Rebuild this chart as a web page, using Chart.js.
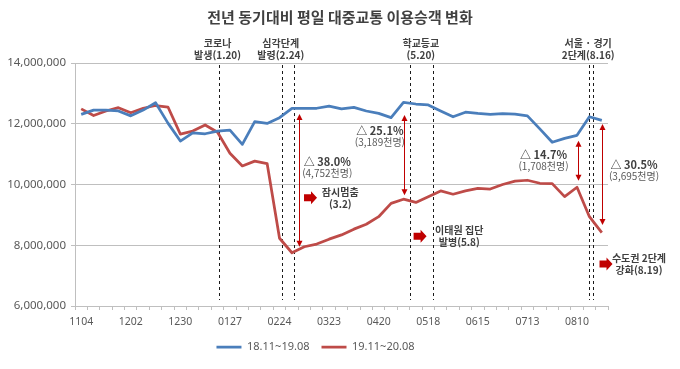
<!DOCTYPE html>
<html lang="ko">
<head>
<meta charset="utf-8">
<title>전년 동기대비 평일 대중교통 이용승객 변화</title>
<script src="https://cdn.jsdelivr.net/npm/chart.js@4.4.1/dist/chart.umd.min.js"></script>
<style>
  html, body { margin: 0; padding: 0; background: #fff; }
  #wrap { width: 680px; height: 369px; }
</style>
</head>
<body>
<div id="wrap"><canvas id="chart" width="680" height="369"></canvas></div>
<script>
'use strict';

// ---------- data ----------
const weeks = [
  '1104', '1111', '1118', '1125', '1202', '1209', '1216', '1223', '1230', '0106',
  '0113', '0120', '0127', '0203', '0210', '0217', '0224', '0302', '0309', '0316',
  '0323', '0330', '0406', '0413', '0420', '0427', '0504', '0511', '0518', '0525',
  '0601', '0608', '0615', '0622', '0629', '0706', '0713', '0720', '0727', '0803',
  '0810', '0817', '0824',
];

// 18.11~19.08 (weekday riders)
const prevYear = [
  12310000, 12450000, 12450000, 12420000, 12260000, 12450000, 12690000, 12020000, 11430000, 11700000,
  11670000, 11760000, 11790000, 11320000, 12070000, 12010000, 12200000, 12505000, 12510000, 12510000,
  12580000, 12490000, 12540000, 12420000, 12340000, 12200000, 12705000, 12650000, 12620000, 12420000,
  12230000, 12380000, 12340000, 12310000, 12330000, 12320000, 12260000, 11830000, 11390000, 11520000,
  11620000, 12230000, 12110000,
];

// 19.11~20.08
const thisYear = [
  12490000, 12270000, 12420000, 12530000, 12360000, 12510000, 12600000, 12550000, 11660000, 11760000,
  11960000, 11720000, 11030000, 10610000, 10770000, 10690000, 8230000, 7753000, 7950000, 8040000,
  8200000, 8340000, 8530000, 8690000, 8940000, 9380000, 9516000, 9410000, 9600000, 9790000,
  9680000, 9790000, 9870000, 9850000, 10000000, 10110000, 10140000, 10040000, 10030000, 9600000,
  9910000, 8940000, 8415000,
];

const yTicks = [6000000, 8000000, 10000000, 12000000, 14000000];
const seriesNames = ['18.11~19.08', '19.11~20.08'];

// events: dashed lines (category position) + label above the plot
const eventAt = [[11.1], [16.2, 17.2], [26.55, 28.4], [40.95, 41.3]];
const eventLabelAt = [11.0, 16.1, 27.4, 40.9];
const eventText = [
  ['코로나', '발생(1.20)'],
  ['심각단계', '발령(2.24)'],
  ['학교등교', '(5.20)'],
  ['서울 · 경기', '2단계(8.16)'],
];

// gap arrows between the two series
const gapAt = [17.6, 26.05, 40.05, 42.05];
const gapFrom = [12320000, 12290000, 11440000, 11990000];
const gapTo = [7950000, 9650000, 10125000, 8670000];
const gapPct = ['△ 38.0%', '△ 25.1%', '△ 14.7%', '△ 30.5%'];
const gapCount = ['(4,752천명)', '(3,189천명)', '(1,708천명)', '(3,695천명)'];
const gapTextX = [19.85, 24.1, 37.3, 44.6];
const gapTextY = [10740000, 11760000, 10970000, 10640000];

// red block-arrow callouts
const calloutX = [18.46, 27.3, 42.3];
const calloutY = [9560000, 8300000, 7380000];
const calloutTextX = [20.9, 30.5, 45.0];
const calloutText = [
  ['잠시멈춤', '(3.2)'],
  ['이태원 집단', '발병(5.8)'],
  ['수도권 2단계', '강화(8.19)'],
];

// ---------- helpers ----------
const $ = (sel) => document.querySelector(sel);
const FONT = "'Noto Sans', 'Noto Sans CJK KR', sans-serif";
const KFONT = "'Noto Sans CJK KR', 'Noto Sans', sans-serif";
const BLUE = '#4A7EBB';
const RED = '#BE4B48';
const ARROW_RED = '#C00000';
const GRID = '#BFBFBF';
const TEXT = '#404040';
const TICK = '#595959';

function vArrow(ctx, px, y1, y2) {
  const h = 6, w = 3;
  ctx.beginPath();
  ctx.moveTo(px, y1 + h - 1);
  ctx.lineTo(px, y2 - h + 1);
  ctx.stroke();
  ctx.beginPath();
  ctx.moveTo(px, y1); ctx.lineTo(px - w, y1 + h); ctx.lineTo(px + w, y1 + h);
  ctx.closePath(); ctx.fill();
  ctx.beginPath();
  ctx.moveTo(px, y2); ctx.lineTo(px - w, y2 - h); ctx.lineTo(px + w, y2 - h);
  ctx.closePath(); ctx.fill();
}

function blockArrow(ctx, cx, cy) {
  ctx.beginPath();
  ctx.moveTo(cx - 6, cy - 3.5);
  ctx.lineTo(cx + 1, cy - 3.5);
  ctx.lineTo(cx + 1, cy - 6.5);
  ctx.lineTo(cx + 7, cy);
  ctx.lineTo(cx + 1, cy + 6.5);
  ctx.lineTo(cx + 1, cy + 3.5);
  ctx.lineTo(cx - 6, cy + 3.5);
  ctx.closePath();
  ctx.fill();
}

// ---------- annotation plugin ----------
const annotate = {
  id: 'annotate',
  afterLayout(chart) {
    // title spans the whole figure; legend is centred a bit left of it
    if (chart.titleBlock) { chart.titleBlock.left = 0; chart.titleBlock.right = chart.width; }
    if (chart.legend) chart.legend.left += 23;
  },
  beforeDatasetsDraw(chart) {
    const { ctx, chartArea, scales: { x, y } } = chart;
    ctx.save();
    ctx.strokeStyle = '#1a1a1a';
    ctx.lineWidth = 1;
    ctx.setLineDash([3, 3]);
    const bottom = y.getPixelForValue(6200000);
    eventAt.forEach((list) => list.forEach((at) => {
      const px = Math.round(x.getPixelForValue(at)) + 0.5;
      ctx.beginPath();
      ctx.moveTo(px, chartArea.top + 2);
      ctx.lineTo(px, bottom);
      ctx.stroke();
    }));
    ctx.restore();
  },
  afterDatasetsDraw(chart) {
    const { ctx, chartArea, scales: { x, y } } = chart;
    ctx.save();
    ctx.textAlign = 'center';
    ctx.textBaseline = 'middle';

    // event labels above the plot
    ctx.fillStyle = TEXT;
    ctx.font = `bold 10px ${KFONT}`;
    eventText.forEach(([a, b], i) => {
      const px = x.getPixelForValue(eventLabelAt[i]);
      ctx.fillText(a, px, chartArea.top - 20);
      ctx.fillText(b, px, chartArea.top - 8);
    });

    // gap arrows
    ctx.strokeStyle = ARROW_RED;
    ctx.fillStyle = ARROW_RED;
    ctx.lineWidth = 1;
    gapAt.forEach((at, i) => {
      const px = Math.round(x.getPixelForValue(at)) + 0.5;
      vArrow(ctx, px, y.getPixelForValue(gapFrom[i]), y.getPixelForValue(gapTo[i]));
    });
    gapPct.forEach((t, i) => {
      const px = x.getPixelForValue(gapTextX[i]);
      const py = y.getPixelForValue(gapTextY[i]);
      ctx.fillStyle = TEXT;
      ctx.font = `bold 11px ${KFONT}`;
      ctx.fillText(t, px, py);
      ctx.fillStyle = TICK;
      ctx.font = `10px ${KFONT}`;
      ctx.fillText(gapCount[i], px, py + 11.5);
    });

    // callouts
    calloutX.forEach((cx, i) => {
      const px = x.getPixelForValue(cx);
      const py = y.getPixelForValue(calloutY[i]);
      ctx.fillStyle = ARROW_RED;
      blockArrow(ctx, px, py);
      const tx = x.getPixelForValue(calloutTextX[i]);
      ctx.fillStyle = TEXT;
      ctx.font = `bold 10px ${KFONT}`;
      ctx.fillText(calloutText[i][0], tx, py - 5.5);
      ctx.fillText(calloutText[i][1], tx, py + 6);
    });
    ctx.restore();
  },
};

// ---------- chart ----------
Chart.defaults.font.family = FONT;

const line = (label, data, color) => ({
  label, data, borderColor: color, backgroundColor: color,
  borderWidth: 2.75, pointRadius: 0, tension: 0, borderJoinStyle: 'round',
});

new Chart($('#chart').getContext('2d'), {
  type: 'line',
  data: {
    labels: weeks,
    datasets: [
      line(seriesNames[0], prevYear, BLUE),
      line(seriesNames[1], thisYear, RED),
    ],
  },
  options: {
    responsive: false,
    animation: false,
    events: [],
    layout: { padding: { left: 0, right: 72, top: 0, bottom: 6.5 } },
    plugins: {
      title: {
        display: true,
        text: '전년 동기대비 평일 대중교통 이용승객 변화',
        color: TEXT,
        font: { family: KFONT, size: 15, weight: 'bold', lineHeight: 1.2 },
        padding: { top: 8, bottom: 37 },
      },
      legend: {
        position: 'bottom',
        labels: {
          color: TICK, font: { size: 11 }, padding: 12,
          usePointStyle: true, pointStyle: 'line', pointStyleWidth: 25,
        },
      },
      tooltip: { enabled: false },
    },
    scales: {
      x: {
        offset: true,
        grid: { drawOnChartArea: false, drawTicks: true, tickLength: 4, offset: true, color: GRID },
        border: { display: true, color: GRID },
        ticks: {
          autoSkip: false, maxRotation: 0, minRotation: 0, padding: 6,
          color: TICK, font: { size: 10.5 },
          callback: (v, i) => (i % 4 === 0 ? weeks[i] : ''),
        },
        afterFit: (s) => { s.height = 23.5; },
      },
      y: {
        min: yTicks[0],
        max: yTicks[yTicks.length - 1],
        afterBuildTicks: (s) => { s.ticks = yTicks.map((value) => ({ value })); },
        grid: { color: GRID, tickLength: 4 },
        border: { display: true, color: GRID },
        ticks: {
          color: TICK, font: { size: 11.5 }, padding: 5,
          callback: (v) => Number(v).toLocaleString('en-US'),
        },
        afterFit: (s) => { s.width = 75; },
      },
    },
  },
  plugins: [annotate],
});
</script>
</body>
</html>
